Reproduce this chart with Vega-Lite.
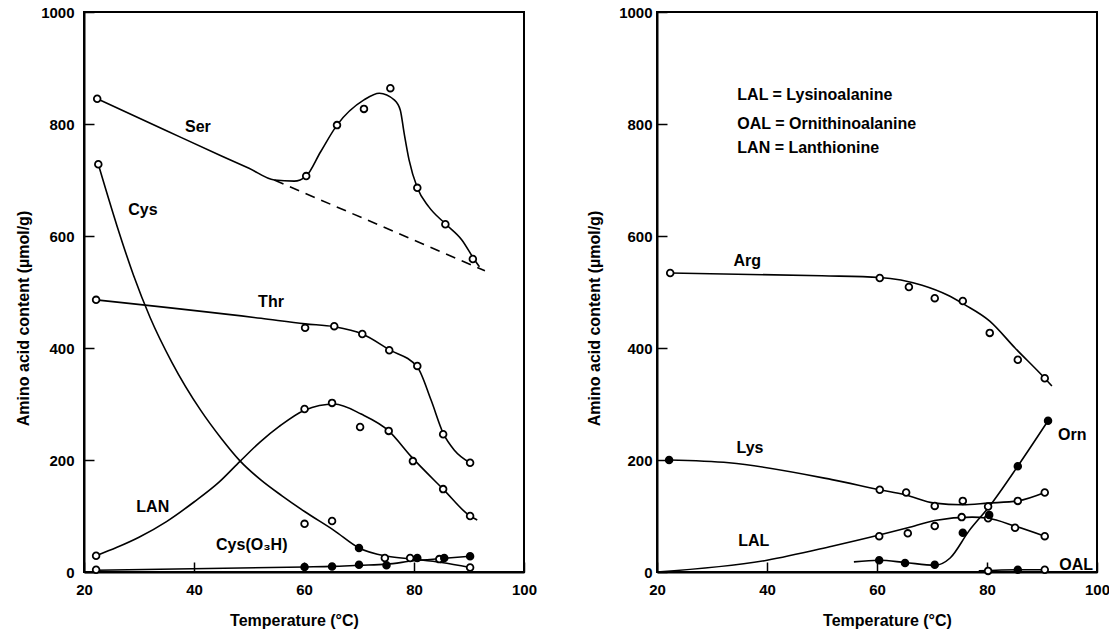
{
  "$schema": "https://vega.github.io/schema/vega-lite/v6.json",
  "autosize": {"type": "pad"},
  "padding": {"left": 14, "top": 4, "right": 0, "bottom": 0},
  "background": "white",
  "spacing": 47,
  "config": {
    "font": "Liberation Sans",
    "view": {"stroke": "black", "strokeWidth": 2},
    "axis": {
      "grid": false,
      "domainColor": "black",
      "domainWidth": 2,
      "tickColor": "black",
      "tickWidth": 1.5,
      "tickSize": -10,
      "labelFont": "Liberation Sans",
      "labelFontWeight": "bold",
      "labelFontSize": 15,
      "labelColor": "black",
      "titleFont": "Liberation Sans",
      "titleFontWeight": "bold",
      "titleFontSize": 16,
      "titleColor": "black"
    }
  },
  "datasets": {
    "leftCurves": [
      {"series": "Ser", "t": 22.4, "v": 845}, {"series": "Ser", "t": 35, "v": 788}, {"series": "Ser", "t": 45, "v": 743},
      {"series": "Ser", "t": 50, "v": 721}, {"series": "Ser", "t": 54.6, "v": 700}, {"series": "Ser", "t": 58.2, "v": 698},
      {"series": "Ser", "t": 60.4, "v": 707}, {"series": "Ser", "t": 63, "v": 750}, {"series": "Ser", "t": 66, "v": 798},
      {"series": "Ser", "t": 70.9, "v": 843}, {"series": "Ser", "t": 73.7, "v": 855}, {"series": "Ser", "t": 76.4, "v": 843},
      {"series": "Ser", "t": 77.5, "v": 825}, {"series": "Ser", "t": 78.2, "v": 784}, {"series": "Ser", "t": 79.1, "v": 736},
      {"series": "Ser", "t": 80.6, "v": 686}, {"series": "Ser", "t": 82.7, "v": 652}, {"series": "Ser", "t": 85.8, "v": 621},
      {"series": "Ser", "t": 88.7, "v": 593}, {"series": "Ser", "t": 90.9, "v": 559}, {"series": "Ser", "t": 91.9, "v": 545},

      {"series": "Thr", "t": 22.2, "v": 486}, {"series": "Thr", "t": 52.2, "v": 453}, {"series": "Thr", "t": 60.2, "v": 443},
      {"series": "Thr", "t": 65.5, "v": 438}, {"series": "Thr", "t": 70.6, "v": 425}, {"series": "Thr", "t": 75.5, "v": 397},
      {"series": "Thr", "t": 80.6, "v": 366}, {"series": "Thr", "t": 83.1, "v": 307}, {"series": "Thr", "t": 85.3, "v": 248},
      {"series": "Thr", "t": 87.3, "v": 218}, {"series": "Thr", "t": 90.2, "v": 195},

      {"series": "Cys", "t": 22.6, "v": 728}, {"series": "Cys", "t": 26, "v": 618}, {"series": "Cys", "t": 29, "v": 530},
      {"series": "Cys", "t": 32, "v": 455}, {"series": "Cys", "t": 36, "v": 374}, {"series": "Cys", "t": 41.2, "v": 289},
      {"series": "Cys", "t": 45, "v": 238}, {"series": "Cys", "t": 48.4, "v": 198}, {"series": "Cys", "t": 52.2, "v": 164},
      {"series": "Cys", "t": 56, "v": 136}, {"series": "Cys", "t": 60.1, "v": 108}, {"series": "Cys", "t": 65.5, "v": 74},
      {"series": "Cys", "t": 70, "v": 43}, {"series": "Cys", "t": 75.2, "v": 28}, {"series": "Cys", "t": 79.8, "v": 23},
      {"series": "Cys", "t": 85, "v": 17}, {"series": "Cys", "t": 90.2, "v": 8},

      {"series": "LAN", "t": 22.2, "v": 29}, {"series": "LAN", "t": 26, "v": 44}, {"series": "LAN", "t": 30, "v": 62},
      {"series": "LAN", "t": 35, "v": 90}, {"series": "LAN", "t": 40, "v": 125}, {"series": "LAN", "t": 44.5, "v": 160},
      {"series": "LAN", "t": 48.4, "v": 198}, {"series": "LAN", "t": 52, "v": 232}, {"series": "LAN", "t": 55.5, "v": 260},
      {"series": "LAN", "t": 60.1, "v": 289}, {"series": "LAN", "t": 65.5, "v": 300}, {"series": "LAN", "t": 70.4, "v": 282},
      {"series": "LAN", "t": 75.4, "v": 252}, {"series": "LAN", "t": 79.5, "v": 206}, {"series": "LAN", "t": 85.3, "v": 148},
      {"series": "LAN", "t": 90.2, "v": 100}, {"series": "LAN", "t": 91.5, "v": 93},

      {"series": "CysO3H", "t": 22.2, "v": 3}, {"series": "CysO3H", "t": 60.1, "v": 9}, {"series": "CysO3H", "t": 65.1, "v": 10},
      {"series": "CysO3H", "t": 70, "v": 12}, {"series": "CysO3H", "t": 75, "v": 14}, {"series": "CysO3H", "t": 80, "v": 20},
      {"series": "CysO3H", "t": 85, "v": 24}, {"series": "CysO3H", "t": 90.2, "v": 28}
    ],
    "leftDashed": [
      {"series": "Ser baseline", "t": 54.6, "v": 700},
      {"series": "Ser baseline", "t": 92.9, "v": 538}
    ],
    "leftPoints": [
      {"series": "Ser", "t": 22.4, "v": 845, "fill": "open"}, {"series": "Ser", "t": 60.4, "v": 707, "fill": "open"},
      {"series": "Ser", "t": 66, "v": 798, "fill": "open"}, {"series": "Ser", "t": 70.9, "v": 827, "fill": "open"},
      {"series": "Ser", "t": 75.7, "v": 864, "fill": "open"}, {"series": "Ser", "t": 80.6, "v": 686, "fill": "open"},
      {"series": "Ser", "t": 85.7, "v": 621, "fill": "open"}, {"series": "Ser", "t": 90.7, "v": 559, "fill": "open"},

      {"series": "Thr", "t": 22.2, "v": 486, "fill": "open"}, {"series": "Thr", "t": 60.2, "v": 436, "fill": "open"},
      {"series": "Thr", "t": 65.5, "v": 439, "fill": "open"}, {"series": "Thr", "t": 70.6, "v": 425, "fill": "open"},
      {"series": "Thr", "t": 75.5, "v": 396, "fill": "open"}, {"series": "Thr", "t": 80.6, "v": 368, "fill": "open"},
      {"series": "Thr", "t": 85.3, "v": 246, "fill": "open"}, {"series": "Thr", "t": 90.2, "v": 195, "fill": "open"},

      {"series": "Cys", "t": 22.6, "v": 728, "fill": "open"}, {"series": "Cys", "t": 60.1, "v": 86, "fill": "open"},
      {"series": "Cys", "t": 65.1, "v": 91, "fill": "open"}, {"series": "Cys", "t": 70, "v": 43, "fill": "filled"},
      {"series": "Cys", "t": 74.7, "v": 25, "fill": "open"}, {"series": "Cys", "t": 79.3, "v": 25, "fill": "open"},
      {"series": "Cys", "t": 84.6, "v": 23, "fill": "open"}, {"series": "Cys", "t": 90.2, "v": 8, "fill": "open"},

      {"series": "LAN", "t": 22.2, "v": 29, "fill": "open"}, {"series": "LAN", "t": 60.1, "v": 291, "fill": "open"},
      {"series": "LAN", "t": 65.1, "v": 302, "fill": "open"}, {"series": "LAN", "t": 70.2, "v": 259, "fill": "open"},
      {"series": "LAN", "t": 75.4, "v": 252, "fill": "open"}, {"series": "LAN", "t": 79.8, "v": 198, "fill": "open"},
      {"series": "LAN", "t": 85.3, "v": 148, "fill": "open"}, {"series": "LAN", "t": 90.2, "v": 100, "fill": "open"},

      {"series": "CysO3H", "t": 22.2, "v": 4, "fill": "open"}, {"series": "CysO3H", "t": 60.1, "v": 9, "fill": "filled"},
      {"series": "CysO3H", "t": 65.1, "v": 10, "fill": "filled"}, {"series": "CysO3H", "t": 70, "v": 13, "fill": "filled"},
      {"series": "CysO3H", "t": 75, "v": 12, "fill": "filled"}, {"series": "CysO3H", "t": 80.6, "v": 25, "fill": "filled"},
      {"series": "CysO3H", "t": 85.5, "v": 25, "fill": "filled"}, {"series": "CysO3H", "t": 90.2, "v": 28, "fill": "filled"}
    ],
    "leftLabels": [
      {"label": "Ser", "t": 40.7, "v": 795},
      {"label": "Cys", "t": 30.7, "v": 646},
      {"label": "Thr", "t": 54, "v": 482},
      {"label": "LAN", "t": 32.5, "v": 116},
      {"label": "Cys(O₃H)", "t": 50.5, "v": 48}
    ],
    "rightCurves": [
      {"series": "Arg", "t": 22.4, "v": 534}, {"series": "Arg", "t": 50, "v": 529}, {"series": "Arg", "t": 60.5, "v": 526},
      {"series": "Arg", "t": 68.2, "v": 512}, {"series": "Arg", "t": 72.7, "v": 495}, {"series": "Arg", "t": 76, "v": 477},
      {"series": "Arg", "t": 80.5, "v": 448}, {"series": "Arg", "t": 85.1, "v": 400}, {"series": "Arg", "t": 90.5, "v": 346},
      {"series": "Arg", "t": 91.8, "v": 332},

      {"series": "Lys", "t": 22.2, "v": 200}, {"series": "Lys", "t": 33.1, "v": 195}, {"series": "Lys", "t": 51.8, "v": 165},
      {"series": "Lys", "t": 60.5, "v": 147}, {"series": "Lys", "t": 65.1, "v": 138}, {"series": "Lys", "t": 70.5, "v": 123},
      {"series": "Lys", "t": 75.5, "v": 120}, {"series": "Lys", "t": 80.2, "v": 123}, {"series": "Lys", "t": 85.6, "v": 127},
      {"series": "Lys", "t": 90.5, "v": 142},

      {"series": "LAL", "t": 20, "v": 0}, {"series": "LAL", "t": 40, "v": 21}, {"series": "LAL", "t": 51.8, "v": 46},
      {"series": "LAL", "t": 60.4, "v": 66}, {"series": "LAL", "t": 65.6, "v": 79}, {"series": "LAL", "t": 70.5, "v": 92},
      {"series": "LAL", "t": 77.3, "v": 98}, {"series": "LAL", "t": 80.2, "v": 96}, {"series": "LAL", "t": 85.1, "v": 82},
      {"series": "LAL", "t": 90.5, "v": 64},

      {"series": "Orn", "t": 55.8, "v": 18}, {"series": "Orn", "t": 60.4, "v": 21}, {"series": "Orn", "t": 65.1, "v": 17},
      {"series": "Orn", "t": 70.5, "v": 12}, {"series": "Orn", "t": 73.3, "v": 25}, {"series": "Orn", "t": 76.7, "v": 73},
      {"series": "Orn", "t": 80.5, "v": 118}, {"series": "Orn", "t": 85.6, "v": 189}, {"series": "Orn", "t": 91.1, "v": 270},

      {"series": "OAL", "t": 78.5, "v": 2}, {"series": "OAL", "t": 85.6, "v": 4}, {"series": "OAL", "t": 90.5, "v": 4}
    ],
    "rightPoints": [
      {"series": "Arg", "t": 22.4, "v": 534, "fill": "open"}, {"series": "Arg", "t": 60.5, "v": 525, "fill": "open"},
      {"series": "Arg", "t": 65.8, "v": 509, "fill": "open"}, {"series": "Arg", "t": 70.5, "v": 489, "fill": "open"},
      {"series": "Arg", "t": 75.6, "v": 484, "fill": "open"}, {"series": "Arg", "t": 80.5, "v": 427, "fill": "open"},
      {"series": "Arg", "t": 85.6, "v": 379, "fill": "open"}, {"series": "Arg", "t": 90.5, "v": 346, "fill": "open"},

      {"series": "Lys", "t": 22.2, "v": 200, "fill": "filled"}, {"series": "Lys", "t": 60.5, "v": 147, "fill": "open"},
      {"series": "Lys", "t": 65.3, "v": 142, "fill": "open"}, {"series": "Lys", "t": 70.5, "v": 118, "fill": "open"},
      {"series": "Lys", "t": 75.6, "v": 127, "fill": "open"}, {"series": "Lys", "t": 80.2, "v": 117, "fill": "open"},
      {"series": "Lys", "t": 85.6, "v": 127, "fill": "open"}, {"series": "Lys", "t": 90.5, "v": 142, "fill": "open"},

      {"series": "LAL", "t": 60.4, "v": 64, "fill": "open"}, {"series": "LAL", "t": 65.6, "v": 69, "fill": "open"},
      {"series": "LAL", "t": 70.5, "v": 82, "fill": "open"}, {"series": "LAL", "t": 75.4, "v": 98, "fill": "open"},
      {"series": "LAL", "t": 80.2, "v": 96, "fill": "open"}, {"series": "LAL", "t": 85.1, "v": 79, "fill": "open"},
      {"series": "LAL", "t": 90.5, "v": 64, "fill": "open"},

      {"series": "Orn", "t": 60.4, "v": 21, "fill": "filled"}, {"series": "Orn", "t": 65.1, "v": 16, "fill": "filled"},
      {"series": "Orn", "t": 70.5, "v": 13, "fill": "filled"}, {"series": "Orn", "t": 75.6, "v": 70, "fill": "filled"},
      {"series": "Orn", "t": 80.4, "v": 102, "fill": "filled"}, {"series": "Orn", "t": 85.6, "v": 189, "fill": "filled"},
      {"series": "Orn", "t": 91.1, "v": 270, "fill": "filled"},

      {"series": "OAL", "t": 80.2, "v": 2, "fill": "open"}, {"series": "OAL", "t": 85.6, "v": 4, "fill": "filled"},
      {"series": "OAL", "t": 90.5, "v": 4, "fill": "open"}
    ],
    "rightLabels": [
      {"label": "Arg", "t": 36.4, "v": 555},
      {"label": "Lys", "t": 36.9, "v": 221},
      {"label": "LAL", "t": 37.6, "v": 55},
      {"label": "Orn", "t": 95.5, "v": 245},
      {"label": "OAL", "t": 96.2, "v": 13}
    ],
    "rightKey": [
      {"label": "LAL = Lysinoalanine", "t": 34.6, "v": 852},
      {"label": "OAL = Ornithinoalanine", "t": 34.6, "v": 800},
      {"label": "LAN = Lanthionine", "t": 34.6, "v": 757}
    ]
  },
  "hconcat": [
    {
      "width": 440,
      "height": 560,
      "encoding": {
        "x": {
          "field": "t", "type": "quantitative",
          "scale": {"domain": [20, 100], "nice": false, "zero": false},
          "axis": {
            "values": [20, 40, 60, 80, 100], "title": "Temperature (°C)", "format": "d",
            "labelFlush": false, "labelBaseline": "alphabetic", "labelPadding": 32,
            "titleX": 210, "titleY": 53, "titleBaseline": "alphabetic"
          }
        },
        "y": {
          "field": "v", "type": "quantitative",
          "scale": {"domain": [0, 1000], "nice": false},
          "axis": {
            "values": [0, 200, 400, 600, 800, 1000], "title": "Amino acid content (µmol/g)", "format": "d",
            "labelPadding": 20, "titleX": -56, "titleY": 306, "titleBaseline": "alphabetic"
          }
        }
      },
      "layer": [
        {
          "data": {"name": "leftDashed"},
          "mark": {"type": "line", "color": "black", "strokeWidth": 1.6, "strokeDash": [10, 7]},
          "encoding": {"detail": {"field": "series"}}
        },
        {
          "data": {"name": "leftCurves"},
          "mark": {"type": "line", "interpolate": "monotone", "color": "black", "strokeWidth": 1.6},
          "encoding": {"detail": {"field": "series"}}
        },
        {
          "data": {"name": "leftPoints"},
          "mark": {"type": "point", "shape": "circle", "filled": true, "stroke": "black", "strokeWidth": 1.8, "size": 45, "opacity": 1},
          "encoding": {
            "fill": {"field": "fill", "type": "nominal", "scale": {"domain": ["open", "filled"], "range": ["white", "black"]}, "legend": null}
          }
        },
        {
          "data": {"name": "leftLabels"},
          "mark": {"type": "text", "fontWeight": "bold", "fontSize": 16, "align": "center", "baseline": "middle", "color": "black"},
          "encoding": {"text": {"field": "label"}}
        }
      ]
    },
    {
      "width": 440,
      "height": 560,
      "encoding": {
        "x": {
          "field": "t", "type": "quantitative",
          "scale": {"domain": [20, 100], "nice": false, "zero": false},
          "axis": {
            "values": [20, 40, 60, 80, 100], "title": "Temperature (°C)", "format": "d",
            "labelFlush": false, "labelBaseline": "alphabetic", "labelPadding": 32,
            "titleX": 230, "titleY": 53, "titleBaseline": "alphabetic"
          }
        },
        "y": {
          "field": "v", "type": "quantitative",
          "scale": {"domain": [0, 1000], "nice": false},
          "axis": {
            "values": [0, 200, 400, 600, 800, 1000], "title": "Amino acid content (µmol/g)", "format": "d",
            "labelPadding": 15, "titleX": -58, "titleY": 306, "titleBaseline": "alphabetic"
          }
        }
      },
      "layer": [
        {
          "data": {"name": "rightCurves"},
          "mark": {"type": "line", "interpolate": "monotone", "color": "black", "strokeWidth": 1.6},
          "encoding": {"detail": {"field": "series"}}
        },
        {
          "data": {"name": "rightPoints"},
          "mark": {"type": "point", "shape": "circle", "filled": true, "stroke": "black", "strokeWidth": 1.8, "size": 45, "opacity": 1},
          "encoding": {
            "fill": {"field": "fill", "type": "nominal", "scale": {"domain": ["open", "filled"], "range": ["white", "black"]}, "legend": null}
          }
        },
        {
          "data": {"name": "rightLabels"},
          "mark": {"type": "text", "fontWeight": "bold", "fontSize": 16, "align": "center", "baseline": "middle", "color": "black"},
          "encoding": {"text": {"field": "label"}}
        },
        {
          "data": {"name": "rightKey"},
          "mark": {"type": "text", "fontWeight": "bold", "fontSize": 16, "align": "left", "baseline": "middle", "color": "black"},
          "encoding": {"text": {"field": "label"}}
        }
      ]
    }
  ]
}
